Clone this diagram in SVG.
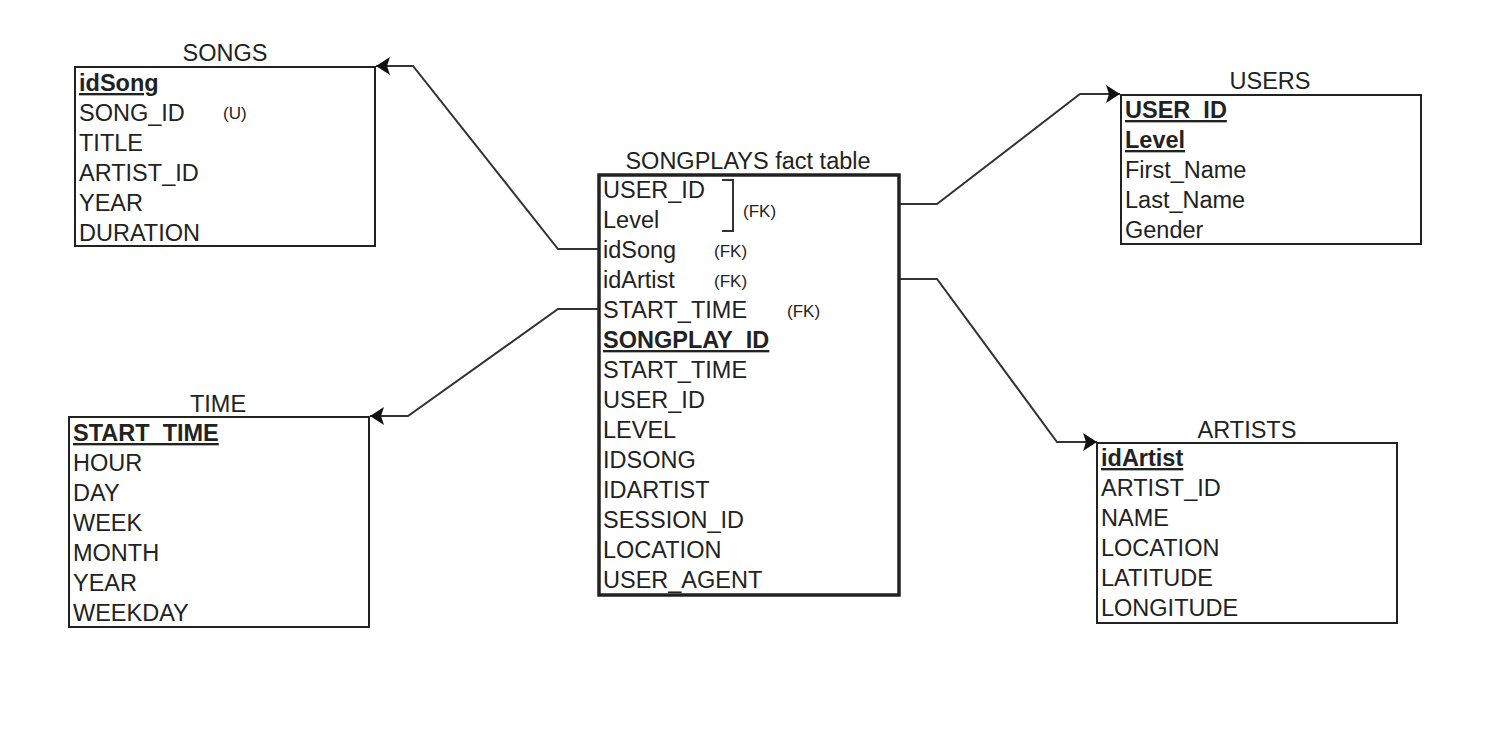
<svg xmlns="http://www.w3.org/2000/svg" width="1490" height="744" viewBox="0 0 1490 744">
<style>
text{font-family:"Liberation Sans",Arial,sans-serif;fill:#222;}
.t{font-size:23.5px;}
.ttl{font-size:23.5px;text-anchor:middle;}
.pk{font-weight:bold;text-decoration:underline;}
.s{font-size:17px;}
.box{fill:#fff;stroke:#222;stroke-width:2;}
.fact{fill:#fff;stroke:#222;stroke-width:3.5;}
.conn{fill:none;stroke:#333;stroke-width:2;}
</style>
<defs>
<marker id="arr" markerUnits="userSpaceOnUse" markerWidth="18" markerHeight="24" viewBox="0 0 18 24" refX="15" refY="12" orient="auto">
<path d="M15,12 L1,3 L4,12 L1,21 Z" fill="#111"/>
</marker>
</defs>
<rect width="1490" height="744" fill="#fff"/>
<g id="connectors">
<polyline class="conn" points="598,249 558,249 413,66 376,66" marker-end="url(#arr)"/>
<polyline class="conn" points="598,309 558,309 408,416 370,416" marker-end="url(#arr)"/>
<polyline class="conn" points="899,204 937,204 1080,94 1120,94" marker-end="url(#arr)"/>
<polyline class="conn" points="899,279 937,279 1057,442 1097,442" marker-end="url(#arr)"/>
</g>
<g id="songs">
<text class="ttl" x="225" y="61">SONGS</text>
<rect class="box" x="75" y="67" width="300" height="179"/>
<text class="t pk" x="79" y="91">idSong</text>
<text class="t" x="79" y="121">SONG_ID</text>
<text class="s" x="223" y="119">(U)</text>
<text class="t" x="79" y="151">TITLE</text>
<text class="t" x="79" y="181">ARTIST_ID</text>
<text class="t" x="79" y="211">YEAR</text>
<text class="t" x="79" y="241">DURATION</text>
</g>
<g id="songplays">
<text class="ttl" x="748" y="169">SONGPLAYS fact table</text>
<rect class="fact" x="599" y="175" width="300" height="420"/>
<text class="t" x="603" y="198">USER_ID</text>
<text class="t" x="603" y="228">Level</text>
<polyline class="conn" points="722,180 733,180 733,231 722,231"/>
<text class="s" x="743" y="217">(FK)</text>
<text class="t" x="603" y="258">idSong</text>
<text class="s" x="714" y="257">(FK)</text>
<text class="t" x="603" y="288">idArtist</text>
<text class="s" x="714" y="287">(FK)</text>
<text class="t" x="603" y="318">START_TIME</text>
<text class="s" x="787" y="317">(FK)</text>
<text class="t pk" x="603" y="348">SONGPLAY_ID</text>
<text class="t" x="603" y="378">START_TIME</text>
<text class="t" x="603" y="408">USER_ID</text>
<text class="t" x="603" y="438">LEVEL</text>
<text class="t" x="603" y="468">IDSONG</text>
<text class="t" x="603" y="498">IDARTIST</text>
<text class="t" x="603" y="528">SESSION_ID</text>
<text class="t" x="603" y="558">LOCATION</text>
<text class="t" x="603" y="588">USER_AGENT</text>
</g>
<g id="users">
<text class="ttl" x="1270" y="89">USERS</text>
<rect class="box" x="1121" y="95" width="300" height="149"/>
<text class="t pk" x="1125" y="118">USER_ID</text>
<text class="t pk" x="1125" y="148">Level</text>
<text class="t" x="1125" y="178">First_Name</text>
<text class="t" x="1125" y="208">Last_Name</text>
<text class="t" x="1125" y="238">Gender</text>
</g>
<g id="time">
<text class="ttl" x="218" y="412">TIME</text>
<rect class="box" x="69" y="417" width="300" height="210"/>
<text class="t pk" x="73" y="441">START_TIME</text>
<text class="t" x="73" y="471">HOUR</text>
<text class="t" x="73" y="501">DAY</text>
<text class="t" x="73" y="531">WEEK</text>
<text class="t" x="73" y="561">MONTH</text>
<text class="t" x="73" y="591">YEAR</text>
<text class="t" x="73" y="621">WEEKDAY</text>
</g>
<g id="artists">
<text class="ttl" x="1247" y="438">ARTISTS</text>
<rect class="box" x="1097" y="443" width="300" height="180"/>
<text class="t pk" x="1101" y="466">idArtist</text>
<text class="t" x="1101" y="496">ARTIST_ID</text>
<text class="t" x="1101" y="526">NAME</text>
<text class="t" x="1101" y="556">LOCATION</text>
<text class="t" x="1101" y="586">LATITUDE</text>
<text class="t" x="1101" y="616">LONGITUDE</text>
</g>
</svg>
